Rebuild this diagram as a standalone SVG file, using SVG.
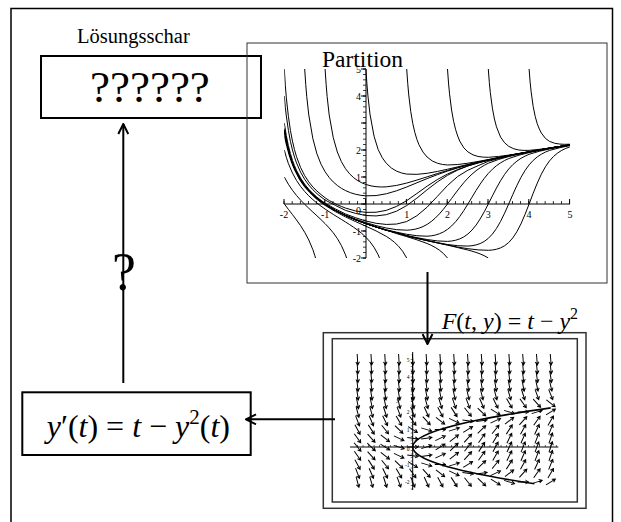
<svg xmlns="http://www.w3.org/2000/svg" width="621" height="522" viewBox="0 0 621 522">
<style>
text{font-family:"Liberation Serif","Times New Roman",serif;fill:#000}
.i{font-style:italic}
.box{fill:none;stroke:#000;stroke-width:2}
.c{fill:none;stroke:#000;stroke-width:1;vector-effect:non-scaling-stroke;stroke-linejoin:round}
.con{fill:none;stroke:#000;stroke-width:2}
.lbl{font-size:10px;fill:#333}
.tl{font-size:5.5px;fill:#444}
</style>
<defs>
<marker id="ah" markerUnits="userSpaceOnUse" viewBox="0 0 12 12" refX="11" refY="6" markerWidth="12" markerHeight="12" orient="auto"><path d="M1,1 L11,6 L1,11" fill="none" stroke="#000" stroke-width="2"/></marker>
<clipPath id="pc" clipPathUnits="userSpaceOnUse"><rect x="-2" y="-2" width="7" height="7"/></clipPath>
<path id="a" d="M-5.5,0H5.5M2.4,-1.8L5.5,0L2.4,1.8" fill="none" stroke="#000" stroke-width="1"/>
<g id="r25"><use href="#a" transform="translate(357.5)rotate(86.6)"/><use href="#a" transform="translate(371.3)rotate(86.5)"/><use href="#a" transform="translate(385.1)rotate(86.5)"/><use href="#a" transform="translate(398.9)rotate(86.4)"/><use href="#a" transform="translate(412.7)rotate(86.3)"/><use href="#a" transform="translate(426.5)rotate(86.3)"/><use href="#a" transform="translate(440.3)rotate(86.2)"/><use href="#a" transform="translate(454.1)rotate(86.1)"/><use href="#a" transform="translate(467.9)rotate(86)"/><use href="#a" transform="translate(481.7)rotate(85.9)"/><use href="#a" transform="translate(495.5)rotate(85.8)"/><use href="#a" transform="translate(509.3)rotate(85.7)"/><use href="#a" transform="translate(523.1)rotate(85.6)"/><use href="#a" transform="translate(536.9)rotate(85.5)"/><use href="#a" transform="translate(550.7)rotate(85.4)"/></g>
<g id="r20"><use href="#a" transform="translate(357.5)rotate(85.9)"/><use href="#a" transform="translate(371.3)rotate(85.8)"/><use href="#a" transform="translate(385.1)rotate(85.7)"/><use href="#a" transform="translate(398.9)rotate(85.6)"/><use href="#a" transform="translate(412.7)rotate(85.5)"/><use href="#a" transform="translate(426.5)rotate(85.4)"/><use href="#a" transform="translate(440.3)rotate(85.3)"/><use href="#a" transform="translate(454.1)rotate(85.1)"/><use href="#a" transform="translate(467.9)rotate(85)"/><use href="#a" transform="translate(481.7)rotate(84.9)"/><use href="#a" transform="translate(495.5)rotate(84.7)"/><use href="#a" transform="translate(509.3)rotate(84.5)"/><use href="#a" transform="translate(523.1)rotate(84.4)"/><use href="#a" transform="translate(536.9)rotate(84.2)"/><use href="#a" transform="translate(550.7)rotate(84)"/></g>
<g id="r16"><use href="#a" transform="translate(357.5)rotate(84.9)"/><use href="#a" transform="translate(371.3)rotate(84.8)"/><use href="#a" transform="translate(385.1)rotate(84.6)"/><use href="#a" transform="translate(398.9)rotate(84.5)"/><use href="#a" transform="translate(412.7)rotate(84.3)"/><use href="#a" transform="translate(426.5)rotate(84.1)"/><use href="#a" transform="translate(440.3)rotate(83.9)"/><use href="#a" transform="translate(454.1)rotate(83.7)"/><use href="#a" transform="translate(467.9)rotate(83.5)"/><use href="#a" transform="translate(481.7)rotate(83.2)"/><use href="#a" transform="translate(495.5)rotate(83)"/><use href="#a" transform="translate(509.3)rotate(82.7)"/><use href="#a" transform="translate(523.1)rotate(82.4)"/><use href="#a" transform="translate(536.9)rotate(82.1)"/><use href="#a" transform="translate(550.7)rotate(81.7)"/></g>
<g id="r12"><use href="#a" transform="translate(357.5)rotate(83.6)"/><use href="#a" transform="translate(371.3)rotate(83.4)"/><use href="#a" transform="translate(385.1)rotate(83.1)"/><use href="#a" transform="translate(398.9)rotate(82.9)"/><use href="#a" transform="translate(412.7)rotate(82.6)"/><use href="#a" transform="translate(426.5)rotate(82.3)"/><use href="#a" transform="translate(440.3)rotate(81.9)"/><use href="#a" transform="translate(454.1)rotate(81.5)"/><use href="#a" transform="translate(467.9)rotate(81.1)"/><use href="#a" transform="translate(481.7)rotate(80.7)"/><use href="#a" transform="translate(495.5)rotate(80.2)"/><use href="#a" transform="translate(509.3)rotate(79.6)"/><use href="#a" transform="translate(523.1)rotate(79)"/><use href="#a" transform="translate(536.9)rotate(78.3)"/><use href="#a" transform="translate(550.7)rotate(77.6)"/></g>
<g id="r9"><use href="#a" transform="translate(357.5)rotate(81.7)"/><use href="#a" transform="translate(371.3)rotate(81.3)"/><use href="#a" transform="translate(385.1)rotate(80.9)"/><use href="#a" transform="translate(398.9)rotate(80.4)"/><use href="#a" transform="translate(412.7)rotate(79.9)"/><use href="#a" transform="translate(426.5)rotate(79.3)"/><use href="#a" transform="translate(440.3)rotate(78.7)"/><use href="#a" transform="translate(454.1)rotate(78)"/><use href="#a" transform="translate(467.9)rotate(77.1)"/><use href="#a" transform="translate(481.7)rotate(76.2)"/><use href="#a" transform="translate(495.5)rotate(75.1)"/><use href="#a" transform="translate(509.3)rotate(73.8)"/><use href="#a" transform="translate(523.1)rotate(72.3)"/><use href="#a" transform="translate(536.9)rotate(70.4)"/><use href="#a" transform="translate(550.7)rotate(68.2)"/></g>
<g id="r6"><use href="#a" transform="translate(357.5)rotate(79)"/><use href="#a" transform="translate(371.3)rotate(78.3)"/><use href="#a" transform="translate(385.1)rotate(77.6)"/><use href="#a" transform="translate(398.9)rotate(76.7)"/><use href="#a" transform="translate(412.7)rotate(75.6)"/><use href="#a" transform="translate(426.5)rotate(74.5)"/><use href="#a" transform="translate(440.3)rotate(73.1)"/><use href="#a" transform="translate(454.1)rotate(71.4)"/><use href="#a" transform="translate(467.9)rotate(69.4)"/><use href="#a" transform="translate(481.7)rotate(66.9)"/><use href="#a" transform="translate(495.5)rotate(63.8)"/><use href="#a" transform="translate(509.3)rotate(59.8)"/><use href="#a" transform="translate(523.1)rotate(54.6)"/><use href="#a" transform="translate(536.9)rotate(47.6)"/><use href="#a" transform="translate(550.7)rotate(38)"/></g>
<g id="r4"><use href="#a" transform="translate(357.5)rotate(75.1)"/><use href="#a" transform="translate(371.3)rotate(73.8)"/><use href="#a" transform="translate(385.1)rotate(72.3)"/><use href="#a" transform="translate(398.9)rotate(70.4)"/><use href="#a" transform="translate(412.7)rotate(68.2)"/><use href="#a" transform="translate(426.5)rotate(65.4)"/><use href="#a" transform="translate(440.3)rotate(61.9)"/><use href="#a" transform="translate(454.1)rotate(57.4)"/><use href="#a" transform="translate(467.9)rotate(51.3)"/><use href="#a" transform="translate(481.7)rotate(43.2)"/><use href="#a" transform="translate(495.5)rotate(32)"/><use href="#a" transform="translate(509.3)rotate(17.4)"/><use href="#a" transform="translate(523.1)rotate(0)"/><use href="#a" transform="translate(536.9)rotate(-17.4)"/><use href="#a" transform="translate(550.7)rotate(-32)"/></g>
<g id="r2"><use href="#a" transform="translate(357.5)rotate(69.4)"/><use href="#a" transform="translate(371.3)rotate(66.9)"/><use href="#a" transform="translate(385.1)rotate(63.8)"/><use href="#a" transform="translate(398.9)rotate(59.8)"/><use href="#a" transform="translate(412.7)rotate(54.6)"/><use href="#a" transform="translate(426.5)rotate(47.6)"/><use href="#a" transform="translate(440.3)rotate(38)"/><use href="#a" transform="translate(454.1)rotate(25.1)"/><use href="#a" transform="translate(467.9)rotate(8.9)"/><use href="#a" transform="translate(481.7)rotate(-8.9)"/><use href="#a" transform="translate(495.5)rotate(-25.1)"/><use href="#a" transform="translate(509.3)rotate(-38)"/><use href="#a" transform="translate(523.1)rotate(-47.6)"/><use href="#a" transform="translate(536.9)rotate(-54.6)"/><use href="#a" transform="translate(550.7)rotate(-59.8)"/></g>
<g id="r1"><use href="#a" transform="translate(357.5)rotate(61.9)"/><use href="#a" transform="translate(371.3)rotate(57.4)"/><use href="#a" transform="translate(385.1)rotate(51.3)"/><use href="#a" transform="translate(398.9)rotate(43.2)"/><use href="#a" transform="translate(412.7)rotate(32)"/><use href="#a" transform="translate(426.5)rotate(17.4)"/><use href="#a" transform="translate(440.3)rotate(0)"/><use href="#a" transform="translate(454.1)rotate(-17.4)"/><use href="#a" transform="translate(467.9)rotate(-32)"/><use href="#a" transform="translate(481.7)rotate(-43.2)"/><use href="#a" transform="translate(495.5)rotate(-51.3)"/><use href="#a" transform="translate(509.3)rotate(-57.4)"/><use href="#a" transform="translate(523.1)rotate(-61.9)"/><use href="#a" transform="translate(536.9)rotate(-65.4)"/><use href="#a" transform="translate(550.7)rotate(-68.2)"/></g>
<g id="rq"><use href="#a" transform="translate(357.5)rotate(54.6)"/><use href="#a" transform="translate(371.3)rotate(47.6)"/><use href="#a" transform="translate(385.1)rotate(38)"/><use href="#a" transform="translate(398.9)rotate(25.1)"/><use href="#a" transform="translate(412.7)rotate(8.9)"/><use href="#a" transform="translate(426.5)rotate(-8.9)"/><use href="#a" transform="translate(440.3)rotate(-25.1)"/><use href="#a" transform="translate(454.1)rotate(-38)"/><use href="#a" transform="translate(467.9)rotate(-47.6)"/><use href="#a" transform="translate(481.7)rotate(-54.6)"/><use href="#a" transform="translate(495.5)rotate(-59.8)"/><use href="#a" transform="translate(509.3)rotate(-63.8)"/><use href="#a" transform="translate(523.1)rotate(-66.9)"/><use href="#a" transform="translate(536.9)rotate(-69.4)"/><use href="#a" transform="translate(550.7)rotate(-71.4)"/></g>
<g id="r0"><use href="#a" transform="translate(357.5)rotate(51.3)"/><use href="#a" transform="translate(371.3)rotate(43.2)"/><use href="#a" transform="translate(385.1)rotate(32)"/><use href="#a" transform="translate(398.9)rotate(17.4)"/><use href="#a" transform="translate(412.7)rotate(0)"/><use href="#a" transform="translate(426.5)rotate(-17.4)"/><use href="#a" transform="translate(440.3)rotate(-32)"/><use href="#a" transform="translate(454.1)rotate(-43.2)"/><use href="#a" transform="translate(467.9)rotate(-51.3)"/><use href="#a" transform="translate(481.7)rotate(-57.4)"/><use href="#a" transform="translate(495.5)rotate(-61.9)"/><use href="#a" transform="translate(509.3)rotate(-65.4)"/><use href="#a" transform="translate(523.1)rotate(-68.2)"/><use href="#a" transform="translate(536.9)rotate(-70.4)"/><use href="#a" transform="translate(550.7)rotate(-72.3)"/></g>
</defs>

<rect id="frame" x="11" y="8.5" width="601.5" height="530" fill="none" stroke="#000" stroke-width="1.5"/>

<g id="loesungsschar">
<text x="77" y="42.7" font-size="20.5">Lösungsschar</text>
<rect class="box" x="41" y="56" width="220" height="62"/>
<text x="90" y="101.7" font-size="45">??????</text>
</g>

<g id="partition">
<rect x="247" y="43" width="360" height="240" fill="none" stroke="#333" stroke-width="1"/>
<g id="partition-axes" stroke="#000" fill="none">
<path d="M284,204H570M366,69V258" stroke-width="1"/>
<path d="M283.6,202.5H570.5" stroke-width="3" stroke-dasharray="0.8 7.36"/>
<path d="M283.5,201.5H571" stroke-width="5" stroke-dasharray="1 39.8"/>
<path d="M364.5,68.6V258.6" stroke-width="3" stroke-dasharray="0.8 4.6"/>
<path d="M363.5,68.5V259" stroke-width="5" stroke-dasharray="1 26"/>
</g>
<g class="lbl" text-anchor="middle">
<text x="284" y="217.5">-2</text><text x="325.1" y="217.5">-1</text><text x="406.7" y="217.5">1</text><text x="447.5" y="217.5">2</text><text x="488.3" y="217.5">3</text><text x="529.1" y="217.5">4</text><text x="569.9" y="217.5">5</text>
</g>
<g class="lbl" text-anchor="end">
<text x="361" y="72.5">5</text><text x="361" y="99.5">4</text><text x="361" y="153.5">2</text><text x="361" y="180.5">1</text><text x="361" y="213.5">0</text><text x="361" y="234.5">-1</text><text x="361" y="261.5">-2</text>
</g>
<g id="solutions" transform="translate(365.9,204) scale(40.8,-27)" clip-path="url(#pc)">
<path class="c" d="M-2,5 L-1.975,4.4 -1.95,3.93 -1.9,3.25 -1.85,2.73 -1.8,2.33 -1.75,2.01 -1.7,1.75 -1.6,1.35 -1.5,1.05 -1.4,.82 -1.3,.63 -1.2,.48 -1.1,.35 -1,.23 -.9,.13 -.8,.05 -.7,-.03 -.6,-.09 -.5,-.15 -.25,-.26 0,-.31 .25,-.305 .5,-.235 .75,-.09 1,.125 1.25,.39 1.5,.66 1.75,.905 2,1.11 2.25,1.275 2.5,1.41 2.75,1.52 3,1.62 3.5,1.79 4,1.93 4.5,2.07 5,2.19"/>
<path class="c" d="M-2,4 L-1.975,3.58 -1.95,3.26 -1.9,2.73 -1.85,2.32 -1.8,2 -1.75,1.74 -1.7,1.52 -1.6,1.175 -1.5,.913 -1.4,.703 -1.3,.53 -1.2,.384 -1.1,.259 -1,.147 -.75,-.05 -.5,-.235 -.25,-.35 0,-.427 .25,-.442 .5,-.395 .75,-.267 1,-.058 1.25,.218 1.5,.527 1.75,.816 2,1.062 2.25,1.257 2.5,1.41 2.75,1.524 3,1.62 3.5,1.79 4,1.93 4.5,2.07 5,2.19"/>
<path class="c" d="M-2,3 L-1.95,2.53 -1.9,2.16 -1.85,1.87 -1.8,1.62 -1.75,1.42 -1.7,1.245 -1.6,.96 -1.5,.734 -1.4,.548 -1.3,.391 -1.2,.255 -1.1,.136 -1,.03 -.75,-.18 -.5,-.37 -.25,-.51 0,-.63 .25,-.715 .5,-.757 .75,-.743 1,-.65 1.25,-.435 1.5,-.118 1.75,.28 2,.685 2.25,1.02 2.5,1.25 2.75,1.42 3,1.58 3.5,1.78 4,1.93 4.5,2.07 5,2.19"/>
<path class="c" d="M-2,2 L-1.95,1.73 -1.9,1.5 -1.8,1.146 -1.7,.871 -1.6,.648 -1.5,.462 -1.4,.302 -1.3,.161 -1.2,.035 -1.1,-.08 -1,-.187 -.9,-.288 -.8,-.385 -.7,-.479 -.6,-.572 -.5,-.665 -.4,-.761 -.3,-.862 -.2,-.971 -.1,-1.092 0,-1.231 .1,-1.397 .2,-1.605 .3,-1.879 .35,-2.06"/>
<path class="c" d="M-2,1 L-1.9,.731 -1.8,.507 -1.7,.315 -1.6,.144 -1.5,-.012 -1.4,-.158 -1.3,-.299 -1.2,-.438 -1.1,-.579 -1,-.727 -.9,-.887 -.8,-1.067 -.7,-1.278 -.6,-1.539 -.5,-1.881 -.45,-2.1"/>
<path class="c" d="M-2,0 L-1.9,-.197 -1.8,-.392 -1.7,-.592 -1.6,-.806 -1.5,-1.047 -1.4,-1.332 -1.3,-1.692 -1.25,-1.918 -1.22,-2.08"/>
<path class="c" d="M-1.5,5 L-1.475,4.43 -1.45,3.98 -1.4,3.3 -1.3,2.42 -1.2,1.857 -1.1,1.473 -1,1.194 -.9,.982 -.8,.817 -.7,.686 -.6,.581 -.5,.497 -.375,.417 -.25,.36 -.125,.322 0,.302 .25,.312 .5,.378 .75,.489 1,.63 1.25,.785 1.5,.94 1.75,1.086 2,1.219 2.25,1.337 2.5,1.443 2.75,1.54 3,1.628 3.5,1.79 4,1.93 4.5,2.07 5,2.19"/>
<path class="c" d="M-1,5 L-.975,4.43 -.95,3.98 -.9,3.3 -.8,2.46 -.7,1.925 -.6,1.565 -.5,1.308 -.4,1.118 -.3,.975 -.2,.866 -.1,.784 0,.723 .125,.671 .25,.641 .375,.63 .5,.635 .75,.687 1,.775 1.25,.886 1.5,1.006 1.75,1.127 2,1.243 2.25,1.351 2.5,1.451 2.75,1.544 3,1.63 3.5,1.79 4,1.93 4.5,2.07 5,2.19"/>
<path class="c" d="M0,5 L.025,4.45 .05,4 .1,3.33 .2,2.51 .3,2.02 .4,1.716 .5,1.507 .625,1.332 .75,1.219 .875,1.148 1,1.108 1.25,1.098 1.5,1.137 1.75,1.205 2,1.287 2.25,1.376 2.5,1.465 2.75,1.551 3,1.636 3.5,1.795 4,1.935 4.5,2.07 5,2.19"/>
<path class="c" d="M1,5 L1.025,4.47 1.05,4.04 1.1,3.42 1.15,2.975 1.2,2.645 1.25,2.393 1.3,2.196 1.4,1.923 1.5,1.74 1.625,1.596 1.75,1.511 1.875,1.465 2,1.445 2.25,1.462 2.5,1.511 2.75,1.576 3,1.647 3.5,1.8 4,1.94 4.5,2.07 5,2.19"/>
<path class="c" d="M2,5 L2.025,4.48 2.05,4.08 2.1,3.48 2.15,3.06 2.2,2.75 2.25,2.518 2.3,2.33 2.4,2.08 2.5,1.93 2.625,1.82 2.75,1.76 2.875,1.735 3,1.73 3.25,1.76 3.5,1.81 3.75,1.87 4,1.936 4.5,2.07 5,2.19"/>
<path class="c" d="M3,5 L3.025,4.5 3.05,4.12 3.1,3.55 3.15,3.15 3.2,2.86 3.3,2.48 3.4,2.267 3.5,2.136 3.625,2.045 3.75,2 3.875,1.985 4,1.987 4.25,2.025 4.5,2.074 4.75,2.129 5,2.185"/>
<path class="c" d="M4,5 L4.025,4.52 4.05,4.16 4.1,3.61 4.15,3.24 4.2,2.97 4.25,2.78 4.3,2.63 4.4,2.43 4.5,2.32 4.625,2.25 4.75,2.22 4.875,2.21 5,2.215"/>
<path class="c" d="M-2,2.8 L-1.9375,2.27 -1.875,1.88 -1.8125,1.58 -1.75,1.34 -1.625,.965 -1.5,.69 -1.375,.468 -1.25,.285 -1.125,.13 -1,-.005 -.75,-.23 -.5,-.41 -.25,-.56 0,-.69 .25,-.801 .5,-.89 .75,-.95 1,-.97 1.1,-.959 1.2,-.935 1.3,-.895 1.4,-.836 1.5,-.756 1.6,-.652 1.7,-.523 1.8,-.369 1.9,-.193 2,0 2.1,.203 2.2,.408 2.3,.606 2.4,.791 2.5,.958 2.6,1.105 2.7,1.232 2.8,1.34 2.9,1.432 3,1.509 3.25,1.649 3.5,1.756 3.75,1.844 4,1.921 4.5,2.06 5,2.18"/>
<path class="c" d="M-2,2.735 L-1.9375,2.24 -1.875,1.86 -1.8125,1.565 -1.75,1.325 -1.625,.955 -1.5,.68 -1.375,.46 -1.25,.278 -1.125,.124 -1,-.012 -.75,-.236 -.5,-.423 -.25,-.583 0,-.722 .25,-.842 .5,-.954 .75,-1.043 1,-1.121 1.25,-1.175 1.5,-1.193 1.6,-1.179 1.7,-1.151 1.8,-1.104 1.9,-1.035 2,-.94 2.1,-.814 2.2,-.655 2.3,-.463 2.4,-.242 2.5,0 2.6,.252 2.7,.501 2.8,.736 2.9,.948 3,1.132 3.1,1.288 3.2,1.418 3.3,1.524 3.4,1.611 3.5,1.683 3.75,1.807 4,1.903 4.25,1.983 4.5,2.053 4.75,2.12 5,2.18"/>
<path class="c" d="M-2,2.72 L-1.9375,2.23 -1.875,1.855 -1.8125,1.56 -1.75,1.32 -1.625,.95 -1.5,.675 -1.375,.456 -1.25,.275 -1.125,.121 -1,-.015 -.75,-.239 -.5,-.426 -.25,-.587 0,-.728 .25,-.853 .5,-.968 .75,-1.062 1,-1.168 1.25,-1.245 1.5,-1.316 1.75,-1.367 2,-1.385 2.1,-1.371 2.2,-1.342 2.3,-1.293 2.4,-1.218 2.5,-1.111 2.6,-.967 2.7,-.781 2.8,-.554 2.9,-.29 3,0 3.1,.3 3.2,.592 3.3,.861 3.4,1.097 3.5,1.295 3.6,1.457 3.7,1.587 3.8,1.691 3.9,1.774 4,1.841 4.25,1.952 4.5,2.038 4.75,2.11 5,2.176"/>
<path class="c" d="M-2,2.72 L-1.9375,2.23 -1.875,1.855 -1.8125,1.56 -1.75,1.32 -1.625,.95 -1.5,.675 -1.375,.456 -1.25,.275 -1.125,.121 -1,-.015 -.75,-.239 -.5,-.426 -.25,-.587 0,-.729 .25,-.854 .5,-.971 .75,-1.065 1,-1.176 1.25,-1.27 1.5,-1.355 1.75,-1.43 2,-1.5 2.25,-1.545 2.5,-1.558 2.6,-1.545 2.7,-1.516 2.8,-1.466 2.9,-1.387 3,-1.273 3.1,-1.115 3.2,-.907 3.3,-.646 3.4,-.339 3.5,0 3.6,.349 3.7,.684 3.8,.985 3.9,1.241 4,1.45 4.1,1.615 4.2,1.744 4.3,1.844 4.4,1.922 4.5,1.984 4.75,2.084 5,2.163"/>
<path class="c" d="M-2,2.72 L-1.9375,2.23 -1.875,1.855 -1.8125,1.56 -1.75,1.32 -1.625,.95 -1.5,.675 -1.375,.456 -1.25,.275 -1.125,.121 -1,-.015 -.75,-.239 -.5,-.426 -.25,-.587 0,-.729 .25,-.854 .5,-.971 .75,-1.065 1,-1.176 1.25,-1.27 1.5,-1.357 1.75,-1.44 2,-1.52 2.25,-1.595 2.5,-1.655 2.75,-1.7 3,-1.715 3.1,-1.704 3.2,-1.676 3.3,-1.626 3.4,-1.546 3.5,-1.427 3.6,-1.257 3.7,-1.028 3.8,-.736 3.9,-.387 4,0 4.1,.397 4.2,.773 4.3,1.104 4.4,1.378 4.5,1.596 4.6,1.763 4.7,1.89 4.8,1.986 4.9,2.059 5,2.116"/>
<path class="c" d="M-2,2.525 L-1.9375,2.12 -1.875,1.78 -1.8125,1.5 -1.75,1.27 -1.625,.9 -1.5,.63 -1.375,.42 -1.25,.235 -1.125,.08 -1,-.052 -.75,-.281 -.5,-.477 -.25,-.653 0,-.822 .25,-.997 .5,-1.2 .6,-1.3 .7,-1.419 .8,-1.564 .9,-1.75 1,-2"/>
<path class="c" d="M-2,2.72 L-1.9375,2.23 -1.875,1.855 -1.8125,1.56 -1.75,1.32 -1.625,.95 -1.5,.675 -1.375,.456 -1.25,.275 -1.125,.121 -1,-.015 -.75,-.239 -.5,-.426 -.25,-.587 0,-.729 .25,-.854 .5,-.971 .75,-1.095 1,-1.208 1.25,-1.326 1.5,-1.462 1.6,-1.53 1.7,-1.61 1.8,-1.708 1.9,-1.833 2,-2"/>
<path class="c" d="M-2,2.72 L-1.9375,2.23 -1.875,1.855 -1.8125,1.56 -1.75,1.32 -1.625,.95 -1.5,.675 -1.375,.456 -1.25,.275 -1.125,.121 -1,-.015 -.75,-.239 -.5,-.426 -.25,-.587 0,-.729 .25,-.854 .5,-.971 .75,-1.065 1,-1.176 1.25,-1.27 1.5,-1.357 1.75,-1.44 2,-1.52 2.25,-1.614 2.5,-1.704 2.6,-1.746 2.7,-1.793 2.8,-1.848 2.9,-1.915 3,-2"/>
</g>
<text x="322" y="67.3" font-size="23.5">Partition</text>
</g>

<g id="field">
<rect x="323.3" y="332.7" width="262.7" height="175.6" fill="#fff" stroke="#333" stroke-width="1.5"/>
<rect x="332.3" y="338.7" width="245" height="163.3" fill="none" stroke="#333" stroke-width="1.5"/>
<g stroke="#000" fill="none">
<path d="M350,447H558.3M412.7,352V490" stroke-width="1"/>
<path d="M357.2,446H558" stroke-width="2" stroke-dasharray="0.6 4.92"/>
<path d="M411.7,359.2V490" stroke-width="2" stroke-dasharray="0.6 2.9"/>
</g>
<g class="tl" text-anchor="end">
<text x="409.5" y="361.5">5</text><text x="409.5" y="379">4</text><text x="409.5" y="414">2</text><text x="409.5" y="431.5">1</text><text x="409.5" y="451">0</text><text x="409.5" y="466.5">-1</text><text x="409.5" y="484">-2</text>
</g>
<text class="i" x="396.5" y="402" font-size="7" fill="#444">y</text>
<use href="#r25" transform="translate(0,359.5)"/>
<use href="#r20" transform="translate(0,368.25)"/>
<use href="#r16" transform="translate(0,377)"/>
<use href="#r12" transform="translate(0,385.75)"/>
<use href="#r9" transform="translate(0,394.5)"/>
<use href="#r6" transform="translate(0,403.25)"/>
<use href="#r4" transform="translate(0,412)"/>
<use href="#r2" transform="translate(0,420.75)"/>
<use href="#r1" transform="translate(0,429.5)"/>
<use href="#rq" transform="translate(0,438.25)"/>
<use href="#r0" transform="translate(0,447)"/>
<use href="#rq" transform="translate(0,455.75)"/>
<use href="#r1" transform="translate(0,464.5)"/>
<use href="#r2" transform="translate(0,473.25)"/>
<use href="#r4" transform="translate(0,482)"/>
<path d="M550.7,407.9Q283.1,445.8 534.4,483.75" fill="none" stroke="#000" stroke-width="1.6"/>
<text x="441.7" y="329.3" font-size="24"><tspan class="i">F</tspan>(<tspan class="i">t</tspan>, <tspan class="i">y</tspan>) = <tspan class="i">t</tspan> − <tspan class="i">y</tspan><tspan font-size="16" dy="-10">2</tspan></text>
</g>

<g id="ode">
<rect class="box" x="22.3" y="392.3" width="228.4" height="62.7"/>
<text x="46.7" y="437.3" font-size="32"><tspan class="i">y</tspan>′(<tspan class="i">t</tspan>) = <tspan class="i">t</tspan> − <tspan class="i">y</tspan><tspan font-size="21" dy="-13">2</tspan><tspan dy="13">(</tspan><tspan class="i">t</tspan>)</text>
</g>

<g id="connectors">
<path class="con" d="M427.5,272V344" marker-end="url(#ah)"/>
<path class="con" d="M335,419.3H246" marker-end="url(#ah)"/>
<path class="con" d="M123.3,383V124" marker-end="url(#ah)"/>
<text x="112" y="290" font-size="54">?</text>
</g>
</svg>
